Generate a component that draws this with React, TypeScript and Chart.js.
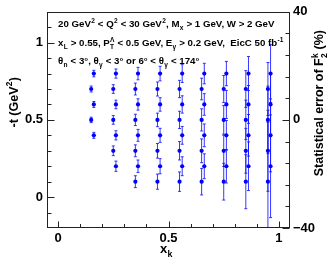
import React, { useEffect, useRef } from "react";
import { Chart, registerables } from "chart.js";

Chart.register(...registerables);

// ---------- data ----------
const XK_BINS = [0.15, 0.25, 0.35, 0.45, 0.55, 0.65, 0.75, 0.85, 0.95];
const T_BINS = [0.8, 0.7, 0.6, 0.5, 0.4, 0.3, 0.2, 0.1];
const ROW_SHIFT = 0.012; // alternating t-rows drawn slightly shifted in x_k

// statistical error of F2^k (%), one list per x_k bin, ordered as T_BINS (null = no point)
const ERR_XK015 = [1.2, 1.1, 1.1, 1.0, 1.1, null, null, null];
const ERR_XK025 = [1.7, 1.6, 1.6, 1.6, 1.7, 1.8, 1.9, null];
const ERR_XK035 = [2.3, 2.2, 2.1, 2.1, 2.2, 2.2, 2.3, 2.2];
const ERR_XK045 = [2.7, 2.6, 2.5, 2.5, 2.6, 2.7, 2.8, 2.8];
const ERR_XK055 = [3.3, 3.2, 3.2, 3.2, 3.3, 3.4, 3.5, 3.6];
const ERR_XK065 = [3.8, 4.0, 4.0, 4.1, 4.2, 4.4, 4.6, 4.9];
const ERR_XK075 = [4.5, 5.0, 5.2, 5.3, 5.5, 5.8, 6.2, 6.8];
const ERR_XK085 = [6.3, 6.8, 7.0, 7.3, 7.7, 8.3, 9.0, 10.0];
const ERR_XK095 = [10.7, 9.8, 11.5, 12.5, 13.5, 15.0, 19.0, 22.0];
const ERRORS = [ERR_XK015, ERR_XK025, ERR_XK035, ERR_XK045, ERR_XK055, ERR_XK065, ERR_XK075, ERR_XK085, ERR_XK095];

const X_RANGE = [-0.05, 1.05];
const T_RANGE = [-0.2, 1.2];
const ERR_RANGE = [-40, 40];
const X_MAJOR = [0, 0.5, 1];
const X_MINOR = [0.1, 0.2, 0.3, 0.4, 0.6, 0.7, 0.8, 0.9];
const T_MAJOR = [0, 0.5, 1];
const T_MINOR = [-0.1, 0.1, 0.2, 0.3, 0.4, 0.6, 0.7, 0.8, 0.9, 1.1];
const ERR_MAJOR = [-40, 0, 40];
const ERR_MINOR = [-32, -24, -16, -8, 8, 16, 24, 32];

type Seg = [string, number]; // 0 normal, 1 sup, 2 sub, 3 stacked "sup|sub"
const LINE1: Seg[] = [["20 GeV", 0], ["2", 1], [" < Q", 0], ["2", 1], [" < 30 GeV", 0], ["2", 1], [", M", 0], ["x", 2], [" > 1 GeV, W > 2 GeV", 0]];
const LINE2: Seg[] = [["x", 0], ["L", 2], [" > 0.55, P", 0], ["Λ|T", 3], [" < 0.5 GeV, E", 0], ["γ", 2], [" > 0.2 GeV,  EicC 50 fb", 0], ["-1", 1]];
const LINE3: Seg[] = [["θ", 0], ["n", 2], [" < 3°, θ", 0], ["γ", 2], [" < 3° or 6° < θ", 0], ["γ", 2], [" < 174°", 0]];
const TITLE_LEFT: Seg[] = [["-t (GeV", 0], ["2", 1], [")", 0]];
const TITLE_RIGHT: Seg[] = [["Statistical error of F", 0], ["k|2", 3], [" (%)", 0]];
const TITLE_X: Seg[] = [["x", 0], ["k", 2]];

const FAMILY = '"Liberation Sans", Arial, Helvetica, sans-serif';

function drawRich(ctx: CanvasRenderingContext2D, segs: Seg[], x: number, y: number, size: number, measureOnly = false): number {
  let cx = x;
  const small = size * 0.68;
  for (const [txt, mode] of segs) {
    if (mode === 0) {
      ctx.font = `bold ${size}px ${FAMILY}`;
      if (!measureOnly) ctx.fillText(txt, cx, y);
      cx += ctx.measureText(txt).width;
    } else if (mode === 1) {
      ctx.font = `bold ${small}px ${FAMILY}`;
      if (!measureOnly) ctx.fillText(txt, cx + 0.3, y - size * 0.42);
      cx += ctx.measureText(txt).width + 0.6;
    } else if (mode === 2) {
      ctx.font = `bold ${small}px ${FAMILY}`;
      if (!measureOnly) ctx.fillText(txt, cx + 0.3, y + size * 0.28);
      cx += ctx.measureText(txt).width + 0.6;
    } else {
      const [a, b] = txt.split("|");
      ctx.font = `bold ${small}px ${FAMILY}`;
      if (!measureOnly) {
        ctx.fillText(a, cx + 0.3, y - size * 0.42);
        ctx.fillText(b, cx + 0.3, y + size * 0.28);
      }
      cx += Math.max(ctx.measureText(a).width, ctx.measureText(b).width) + 0.6;
    }
  }
  return cx - x;
}

type Pt = { x: number; y: number; err: number };

function buildPoints(): Pt[] {
  const pts: Pt[] = [];
  XK_BINS.forEach((xk, ci) => {
    T_BINS.forEach((t, ri) => {
      const e = ERRORS[ci][ri];
      if (e == null) return;
      pts.push({ x: xk + (ri % 2 === 0 ? ROW_SHIFT : 0), y: t, err: e });
    });
  });
  return pts;
}

export default function App() {
  const ref = useRef<HTMLCanvasElement | null>(null);

  useEffect(() => {
    if (!ref.current) return;
    const pts = buildPoints();

    const errorBars = {
      id: "errorBars",
      beforeDatasetsDraw(chart: any) {
        const { ctx, chartArea: a } = chart;
        const y2 = chart.scales.y2;
        const meta = chart.getDatasetMeta(0);
        ctx.save();
        ctx.beginPath();
        ctx.rect(a.left, a.top, a.right - a.left, a.bottom - a.top);
        ctx.clip();
        ctx.strokeStyle = "rgba(20,20,255,0.85)";
        ctx.lineWidth = 1;
        meta.data.forEach((el: any, i: number) => {
          const p = pts[i];
          const half = Math.abs(y2.getPixelForValue(p.err) - y2.getPixelForValue(0));
          ctx.beginPath();
          ctx.moveTo(el.x, el.y - half);
          ctx.lineTo(el.x, el.y + half);
          ctx.moveTo(el.x - 1.5, el.y - half);
          ctx.lineTo(el.x + 1.5, el.y - half);
          ctx.moveTo(el.x - 1.5, el.y + half);
          ctx.lineTo(el.x + 1.5, el.y + half);
          ctx.stroke();
        });
        ctx.restore();
      },
    };

    const frame = {
      id: "frame",
      afterDraw(chart: any) {
        const { ctx, chartArea: a } = chart;
        const { x, y, y2 } = chart.scales;
        const L = Math.round(a.left) + 0.5, R = Math.round(a.right) - 0.5;
        const T = Math.round(a.top) + 0.5, B = Math.round(a.bottom) - 0.5;
        ctx.save();
        ctx.strokeStyle = "#222";
        ctx.lineWidth = 1;
        ctx.strokeRect(L, T, R - L, B - T);
        ctx.beginPath();
        const hx = (v: number, len: number) => {
          const px = Math.round(x.getPixelForValue(v)) + 0.5;
          ctx.moveTo(px, B);
          ctx.lineTo(px, B - len);
        };
        X_MAJOR.forEach((v) => hx(v, 6));
        X_MINOR.forEach((v) => hx(v, 3.5));
        const vl = (v: number, len: number) => {
          const py = Math.round(y.getPixelForValue(v)) + 0.5;
          ctx.moveTo(L, py);
          ctx.lineTo(L + len, py);
        };
        T_MAJOR.forEach((v) => vl(v, 7));
        T_MINOR.forEach((v) => vl(v, 4));
        const vr = (v: number, len: number) => {
          const py = Math.round(y2.getPixelForValue(v)) + 0.5;
          ctx.moveTo(R, py);
          ctx.lineTo(R - len, py);
        };
        ERR_MAJOR.forEach((v) => vr(v, 7));
        ERR_MINOR.forEach((v) => vr(v, 4));
        ctx.stroke();

        // annotation text
        ctx.fillStyle = "#000";
        ctx.textAlign = "left";
        ctx.textBaseline = "alphabetic";
        drawRich(ctx, LINE1, 58, 27, 9.7);
        drawRich(ctx, LINE2, 58, 46, 9.7);
        drawRich(ctx, LINE3, 58, 64, 9.7);

        // x title
        drawRich(ctx, TITLE_X, 160, 253, 13);

        // left title, rotated, ending near the top
        const wl = drawRich(ctx, TITLE_LEFT, 0, 0, 12.5, true);
        ctx.save();
        ctx.translate(17.5, 77 + wl);
        ctx.rotate(-Math.PI / 2);
        drawRich(ctx, TITLE_LEFT, 0, 0, 12.5);
        ctx.restore();

        // right title
        const wr = drawRich(ctx, TITLE_RIGHT, 0, 0, 12.5, true);
        ctx.save();
        ctx.translate(323, 30 + wr);
        ctx.rotate(-Math.PI / 2);
        drawRich(ctx, TITLE_RIGHT, 0, 0, 12.5);
        ctx.restore();
        ctx.restore();
      },
    };

    const tickFont = { family: FAMILY, size: 13, weight: "bold" as const };
    const setTicks = (vals: number[]) => (scale: any) => {
      scale.ticks = vals.map((v) => ({ value: v }));
    };
    const fmt = (v: any) => {
      const n = Number(v);
      if (n < 0) return "\u2212" + String(Math.abs(n));
      return String(n);
    };

    const chart = new Chart(ref.current, {
      type: "scatter",
      data: {
        datasets: [
          {
            data: pts.map((p) => ({ x: p.x, y: p.y })),
            backgroundColor: "#0000ff",
            borderWidth: 0,
            pointRadius: 2.1,
            xAxisID: "x",
            yAxisID: "y",
          },
        ],
      },
      options: {
        responsive: false,
        animation: false,
        events: [],
        layout: { padding: { top: 10, left: 0, right: 0, bottom: 0 } },
        plugins: { legend: { display: false }, tooltip: { enabled: false } },
        scales: {
          x: {
            type: "linear",
            position: "bottom",
            min: X_RANGE[0],
            max: X_RANGE[1],
            afterBuildTicks: setTicks(X_MAJOR),
            afterFit: (s: any) => { s.height = 34; },
            grid: { display: false, drawTicks: false },
            border: { display: false },
            ticks: { font: tickFont, color: "#000", padding: 3, autoSkip: false, maxRotation: 0, callback: fmt },
          },
          y: {
            type: "linear",
            position: "left",
            min: T_RANGE[0],
            max: T_RANGE[1],
            afterBuildTicks: setTicks(T_MAJOR),
            afterFit: (s: any) => { s.width = 47; },
            grid: { display: false, drawTicks: false },
            border: { display: false },
            ticks: { font: tickFont, color: "#000", padding: 4, autoSkip: false, callback: fmt },
          },
          y2: {
            type: "linear",
            position: "right",
            min: ERR_RANGE[0],
            max: ERR_RANGE[1],
            afterBuildTicks: setTicks(ERR_MAJOR),
            afterFit: (s: any) => { s.width = 41; },
            grid: { display: false, drawTicks: false },
            border: { display: false },
            ticks: { font: tickFont, color: "#000", padding: 3, autoSkip: false, callback: fmt },
          },
        },
      },
      plugins: [errorBars, frame],
    });
    return () => chart.destroy();
  }, []);

  return (
    <div style={{ position: "fixed", left: 0, top: 0, width: 331, height: 262, background: "#fff" }}>
      <canvas ref={ref} width={331} height={262} style={{ display: "block", width: 331, height: 262 }} />
    </div>
  );
}
